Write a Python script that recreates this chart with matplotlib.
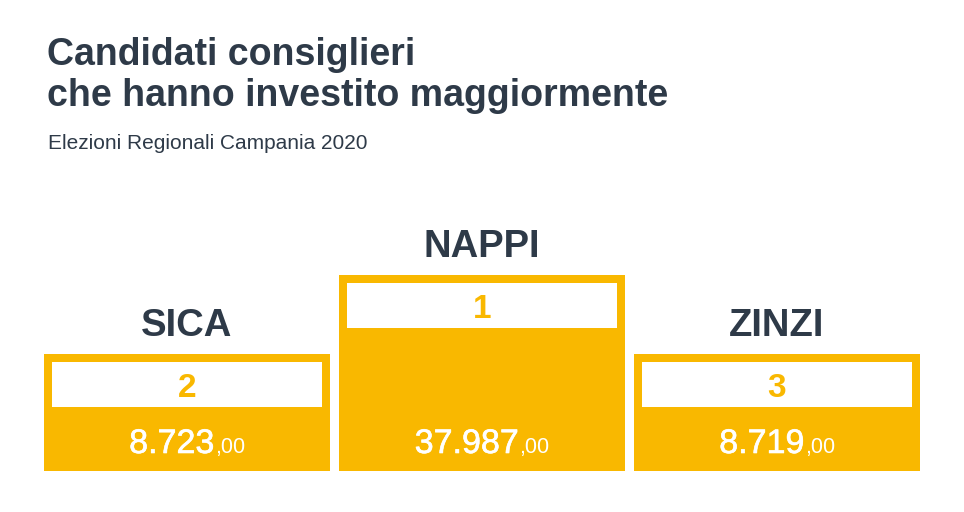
import matplotlib
matplotlib.use("Agg")
import matplotlib.pyplot as plt
import matplotlib.patheffects as pe

plt.rcParams['font.family'] = ['Liberation Sans', 'DejaVu Sans']

# dati
names = ["SICA", "NAPPI", "ZINZI"]
ranks = [2, 1, 3]
interi = ["8.723", "37.987", "8.719"]
decimali = [",00", ",00", ",00"]

ORANGE = "#F9B800"
DARK = "#2E3A48"

W, H = 964, 512
fig = plt.figure(figsize=(W / 100, H / 100), dpi=100)
ax = fig.add_axes([0, 0, 1, 1])
ax.set_xlim(0, W)
ax.set_ylim(H, 0)
ax.axis("off")

# podio: altezza della colonna per posizione
base = 471
top_by_rank = {1: 275, 2: 354, 3: 354}
centers = [187, 482, 777]
bw = 286

tops = [top_by_rank[r] for r in ranks]
ax.bar(centers, [base - t for t in tops], width=bw, bottom=tops, color=ORANGE)
ax.bar(centers, [45] * 3, width=bw - 16, bottom=[t + 8 for t in tops], color="white")

ax.text(47, 65, "Candidati consiglieri", fontsize=27, fontweight="bold",
        color=DARK, va="baseline", ha="left")
ax.text(47, 106, "che hanno investito maggiormente", fontsize=27,
        fontweight="bold", color=DARK, va="baseline", ha="left")
ax.text(48, 149, "Elezioni Regionali Campania 2020", fontsize=15,
        color=DARK, va="baseline", ha="left")

# cifre "medium": regular con un leggero contorno bianco
medio = [pe.withStroke(linewidth=0.45, foreground="white")]

fig.canvas.draw()
r = fig.canvas.get_renderer()
for c, t, n, rk, a, b in zip(centers, tops, names, ranks, interi, decimali):
    ax.text(c, t - 18, n, fontsize=27.5, fontweight="bold", color=DARK, ha="center", va="baseline")
    ax.text(c, t + 43, str(rk), fontsize=24, fontweight="bold", color=ORANGE,
            ha="center", va="baseline")
    t1 = ax.text(0, 453, a, fontsize=24.5, color="white", ha="left", va="baseline",
                 path_effects=medio)
    t2 = ax.text(0, 453, b, fontsize=15.5, color="white", ha="left", va="baseline")
    w1 = t1.get_window_extent(r).width
    w2 = t2.get_window_extent(r).width
    x0 = c - (w1 + w2) / 2
    t1.set_x(x0)
    t2.set_x(x0 + w1)

fig.savefig("out.png", dpi=100, facecolor="white")
